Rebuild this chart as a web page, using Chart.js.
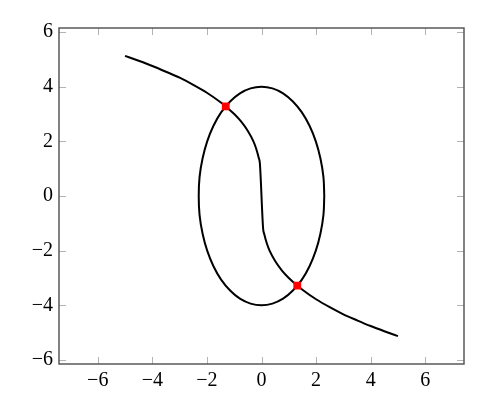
<!DOCTYPE html>
<html lang="en">
<head>
    <meta charset="UTF-8">
    <title>Ellipse and cube root curve</title>
    <style>
        body {
            margin: 0;
            padding: 0;
            background: #fff;
        }
        #wrap {
            width: 483px;
            height: 412px;
        }
    </style>
    <script src="https://cdn.jsdelivr.net/npm/chart.js"></script>
</head>
<body>
    <div id="wrap"><canvas id="plot"></canvas></div>
    <script>
        // values
        const ellipseX = [2.3, 2.27, 2.16, 1.99, 1.76, 1.48, 1.15, 0.79, 0.4, 0,
                          -0.4, -0.79, -1.15, -1.48, -1.76, -1.99, -2.16, -2.27, -2.3,
                          -2.27, -2.16, -1.99, -1.76, -1.48, -1.15, -0.79, -0.4, 0,
                          0.4, 0.79, 1.15, 1.48, 1.76, 1.99, 2.16, 2.27, 2.3];
        const ellipseY = [0, 0.69, 1.37, 2.0, 2.57, 3.06, 3.46, 3.76, 3.94, 4,
                          3.94, 3.76, 3.46, 3.06, 2.57, 2.0, 1.37, 0.69, 0,
                          -0.69, -1.37, -2.0, -2.57, -3.06, -3.46, -3.76, -3.94, -4,
                          -3.94, -3.76, -3.46, -3.06, -2.57, -2.0, -1.37, -0.69, 0];

        const curveX = [-5, -4.5, -4, -3.5, -3, -2.5, -2, -1.5, -1.3, -1, -0.75, -0.5, -0.3, -0.2, -0.1, -0.06,
                        0.06, 0.1, 0.2, 0.3, 0.5, 0.75, 1, 1.3, 1.5, 2, 2.5, 3, 3.5, 4, 4.5, 5];
        const curveY = [5.13, 4.95, 4.76, 4.55, 4.33, 4.07, 3.78, 3.43, 3.27, 3.0, 2.73, 2.38, 2.01, 1.75, 1.39, 1.2,
                        -1.2, -1.39, -1.75, -2.01, -2.38, -2.73, -3.0, -3.27, -3.43, -3.78, -4.07, -4.33, -4.55, -4.76, -4.95, -5.13];

        const crossX = [-1.31, 1.31];
        const crossY = [3.28, -3.28];

        const xTicks = [-6, -4, -2, 0, 2, 4, 6];
        const yTicks = [-6, -4, -2, 0, 2, 4, 6];

        const toPoints = (xs, ys) => xs.map((x, i) => ({ x: x, y: ys[i] }));
        const fmt = v => (v < 0 ? '\u2212' : '') + Math.abs(v);

        // frame plus inward gray ticks on all four sides
        const framePlugin = {
            id: 'frame',
            afterDraw(chart) {
                const ctx = chart.ctx;
                const a = chart.chartArea;
                const xs = chart.scales.x, ys = chart.scales.y;
                ctx.save();
                ctx.strokeStyle = '#b3b3b3';
                ctx.lineWidth = 1;
                xTicks.forEach(v => {
                    const px = Math.round(xs.getPixelForValue(v)) + 0.5;
                    ctx.beginPath();
                    ctx.moveTo(px, a.bottom); ctx.lineTo(px, a.bottom - 7);
                    ctx.moveTo(px, a.top); ctx.lineTo(px, a.top + 7);
                    ctx.stroke();
                });
                yTicks.forEach(v => {
                    const py = Math.round(ys.getPixelForValue(v)) + 0.5;
                    ctx.beginPath();
                    ctx.moveTo(a.left, py); ctx.lineTo(a.left + 7, py);
                    ctx.moveTo(a.right, py); ctx.lineTo(a.right - 7, py);
                    ctx.stroke();
                });
                ctx.strokeStyle = '#4d4d4d';
                ctx.lineWidth = 1.4;
                ctx.strokeRect(a.left, a.top, a.right - a.left, a.bottom - a.top);
                ctx.restore();
            }
        };

        const font = { family: 'Liberation Serif', size: 20 };

        new Chart(document.getElementById('plot'), {
            type: 'scatter',
            data: {
                datasets: [{
                    data: toPoints(crossX, crossY),
                    showLine: false,
                    pointStyle: 'rect',
                    pointRadius: 5.5,
                    backgroundColor: '#ff0000',
                    borderColor: '#ff0000',
                    borderWidth: 0
                }, {
                    data: toPoints(ellipseX, ellipseY),
                    showLine: true,
                    tension: 0.4,
                    borderColor: '#000',
                    borderWidth: 2,
                    pointRadius: 0
                }, {
                    data: toPoints(curveX, curveY),
                    showLine: true,
                    cubicInterpolationMode: 'monotone',
                    borderColor: '#000',
                    borderWidth: 2,
                    pointRadius: 0
                }]
            },
            options: {
                responsive: true,
                maintainAspectRatio: false,
                animation: false,
                layout: { padding: { top: 28, right: 19, left: 0, bottom: 0 } },
                plugins: {
                    legend: { display: false },
                    tooltip: { enabled: false }
                },
                scales: {
                    x: {
                        min: -7.42,
                        max: 7.42,
                        grid: { display: false, drawTicks: false },
                        border: { display: false },
                        afterBuildTicks: s => { s.ticks = xTicks.map(v => ({ value: v })); },
                        afterFit: s => { s.height = 48; },
                        ticks: { color: '#000', font: font, padding: 5, maxRotation: 0, callback: fmt }
                    },
                    y: {
                        min: -6.15,
                        max: 6.15,
                        grid: { display: false, drawTicks: false },
                        border: { display: false },
                        afterBuildTicks: s => { s.ticks = yTicks.map(v => ({ value: v })); },
                        afterFit: s => { s.width = 59; },
                        ticks: { color: '#000', font: font, padding: 6, callback: fmt }
                    }
                }
            },
            plugins: [framePlugin]
        });
    </script>
</body>
</html>
